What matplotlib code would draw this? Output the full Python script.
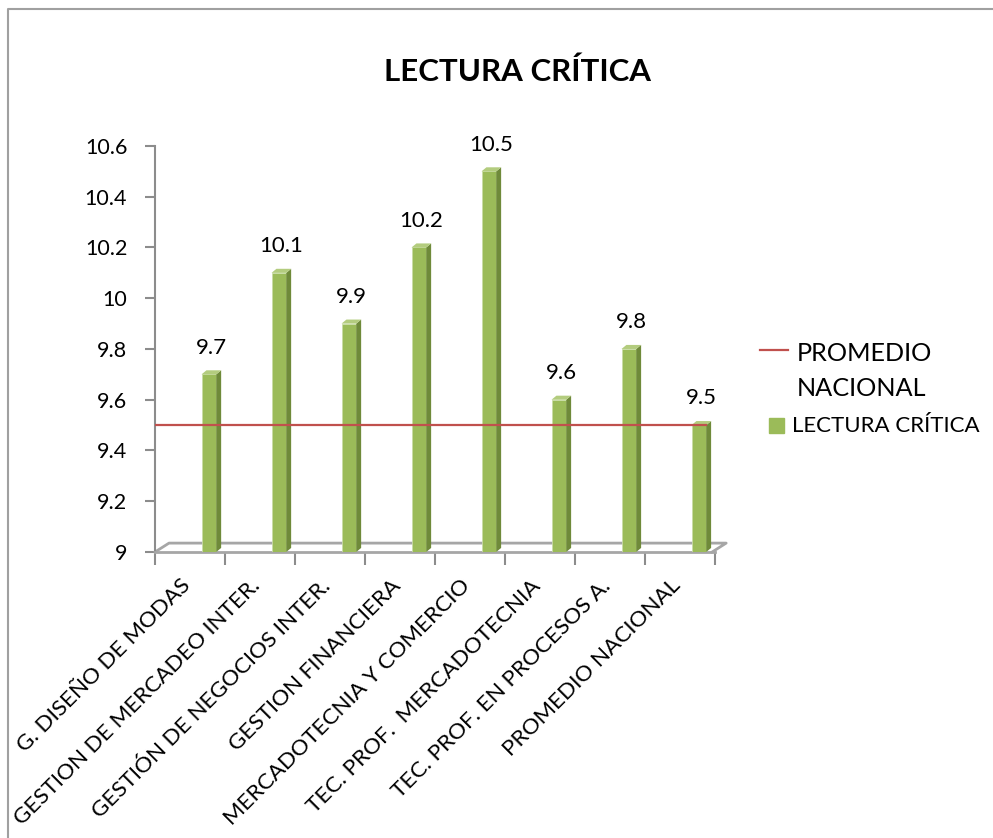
import matplotlib.pyplot as plt
from matplotlib.lines import Line2D
from matplotlib.patches import Rectangle, Polygon
from matplotlib.transforms import ScaledTranslation

# datos
categorias = ['G. DISEÑO DE MODAS', 'GESTION DE MERCADEO INTER.', 'GESTIÓN DE NEGOCIOS INTER.',
              'GESTION FINANCIERA', 'MERCADOTECNIA Y COMERCIO', 'TEC. PROF.  MERCADOTECNIA',
              'TEC. PROF. EN PROCESOS A.', 'PROMEDIO NACIONAL']
lectura = [9.7, 10.1, 9.9, 10.2, 10.5, 9.6, 9.8, 9.5]
promedio = 9.5
y_ticks = [9, 9.2, 9.4, 9.6, 9.8, 10, 10.2, 10.4, 10.6]

plt.rcParams['font.family'] = ['Lato', 'DejaVu Sans']

verde = '#9BBB59'
verde_osc = '#6F8A3A'
verde_claro = '#B3CC7E'
rojo = '#C0504D'
gris = '#8C8C8C'

fig = plt.figure(figsize=(9.93, 8.38), dpi=100)
ax = fig.add_axes([0.1561, 0.3413, 0.5639, 0.4845])

n = len(categorias)
off, w = 0.27, 0.21
dx, dy = 0.07, 0.016
xs = [i + off for i in range(n)]

ax.bar(xs, [v - 9 for v in lectura], bottom=9, width=w, color=verde, edgecolor='#c9dca6',
       linewidth=0.6, zorder=3)
for x, v in zip(xs, lectura):
    xl, xr = x - w / 2, x + w / 2
    ax.add_patch(Polygon([(xr, 9), (xr + dx, 9 + dy), (xr + dx, v + dy), (xr, v)],
                         closed=True, facecolor=verde_osc, edgecolor='none', zorder=3))
    ax.add_patch(Polygon([(xl, v), (xl + dx, v + dy), (xr + dx, v + dy), (xr, v)],
                         closed=True, facecolor=verde_claro, edgecolor='none', zorder=3))
    ax.annotate(f'{v}', (x + dx / 2, v), xytext=(0, 12), textcoords='offset points',
                ha='center', va='bottom', fontsize=16)

# línea del promedio nacional
ax.plot([-0.5, xs[-1] + w / 2], [promedio, promedio], color=rojo, lw=1.6, zorder=4)

ax.set_xlim(-0.5, n - 0.5)
ax.set_ylim(9, 10.6)
ax.set_yticks(y_ticks)
ax.set_yticklabels(['9', '9.2', '9.4', '9.6', '9.8', '10', '10.2', '10.4', '10.6'])
ax.tick_params(axis='y', length=7, width=1.5, color=gris, pad=13, labelsize=15.5)

ax.set_xticks([i - 0.5 for i in range(n + 1)])
ax.set_xticklabels([])
ax.tick_params(axis='x', which='major', length=9, width=1.5, color=gris)
ax.set_xticks(range(n), minor=True)
ax.set_xticklabels(categorias, minor=True, rotation=45, ha='right', va='top',
                   rotation_mode='anchor', fontsize=16.2)
ax.tick_params(axis='x', which='minor', length=0, pad=17)
for lab in ax.get_xticklabels(minor=True):
    lab.set_transform(lab.get_transform() + ScaledTranslation(-7 / 72, 0, fig.dpi_scale_trans))

for s in ['top', 'right']:
    ax.spines[s].set_visible(False)
ax.spines['left'].set_color(gris)
ax.spines['left'].set_linewidth(1.5)
ax.spines['bottom'].set_color('#a6a6a6')
ax.spines['bottom'].set_linewidth(2)

# piso 3D
fx, fy = 0.2, 0.035
x_end = n - 0.5 - 0.04
ax.plot([-0.5, -0.5 + fx, x_end + fx, x_end], [9, 9 + fy, 9 + fy, 9],
        color='#a6a6a6', lw=2, clip_on=False, zorder=2)

# título
fig.text(0.521, 0.914, 'LECTURA CRÍTICA', ha='center', va='center', fontsize=22.5,
         fontweight='bold')

# leyenda
fig.add_artist(Line2D([760 / 993, 788 / 993], [1 - 350 / 838] * 2, color=rojo, lw=1.6))
fig.text(797 / 993, 1 - 353 / 838, 'PROMEDIO', fontsize=18.2, va='center')
fig.text(797 / 993, 1 - 388 / 838, 'NACIONAL', fontsize=18.2, va='center')
fig.add_artist(Rectangle((769 / 993, 1 - 433 / 838), 15 / 993, 15 / 838, color=verde,
                         transform=fig.transFigure))
fig.text(792 / 993, 1 - 426 / 838, 'LECTURA CRÍTICA', fontsize=16, va='center')

# borde
fig.add_artist(Line2D([8 / 993, 8 / 993, 1], [0, 1 - 9 / 838, 1 - 9 / 838], color='#a0a0a0', lw=1.5))

fig.savefig('out.png', dpi=100)
